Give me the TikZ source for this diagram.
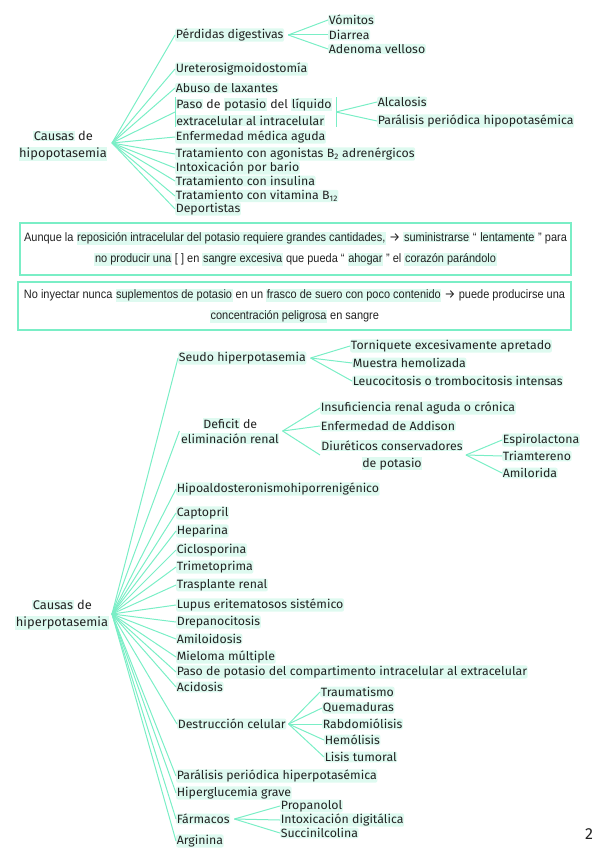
\documentclass[tikz,border=0pt]{standalone}
\usepackage{fontspec}
\setmainfont{Fira Sans}
\newfontfamily\itemfont[FakeStretch=1.03]{Fira Sans}
\newfontfamily\notefont[FakeStretch=0.9]{Liberation Sans}
\usepackage{xcolor}
\usetikzlibrary{positioning}

\definecolor{mint}{RGB}{122,238,198}
\definecolor{hlmint}{RGB}{222,250,240}
\definecolor{ink}{RGB}{34,34,34}

\newcommand{\mk}[1]{{\setlength{\fboxsep}{0.6pt}\colorbox{hlmint}{#1}}}
\newcommand{\toarrow}{{\itemfont →}}

\begin{document}
\begin{tikzpicture}[
  x=1pt, y=-1pt,
  item/.style={anchor=west, inner sep=0.6pt, fill=hlmint, rounded corners=2pt, text=ink, font=\itemfont\fontsize{12}{17}\selectfont},
  root/.style={align=center, inner sep=1pt, text=ink, font=\itemfont\fontsize{12.5}{17}\selectfont},
  link/.style={draw=mint, line width=1pt},
  note/.style={draw=mint, line width=1.2pt, align=center, inner sep=0pt, text=ink, font=\notefont\fontsize{12.2}{21}\selectfont}
]
\useasboundingbox (0,0) rectangle (599,848);

% hipopotasemia
\node[root] (hypo) at (63,146) {\mk{Causas} de\\\mk{hipopotasemia}};
\coordinate (hypohub) at (112,143);

\node[item] (perd) at (175,35) {Pérdidas digestivas};
\node[item] (vom) at (328,20) {Vómitos};
\node[item] (dia) at (328,35) {Diarrea};
\node[item] (aden) at (328,49) {Adenoma velloso};
\node[item] (ureter) at (175,69) {Ureterosigmoidostomía};
\node[item] (laxa) at (175,88) {Abuso de laxantes};
\node[item, align=left, fill=none] (pasoext) at (175,112) {\mk{Paso} de \mk{potasio} del \mk{líquido}\\\mk{extracelular al intracelular}};
\node[item] (alca) at (377,102) {Alcalosis};
\node[item] (parhypo) at (377,121) {Parálisis periódica hipopotasémica};
\node[item] (enf) at (175,137) {Enfermedad médica aguda};
\node[item] (agon) at (175,154) {Tratamiento con agonistas B\textsubscript{2} adrenérgicos};
\node[item] (bario) at (175,168) {Intoxicación por bario};
\node[item] (insul) at (175,181) {Tratamiento con insulina};
\node[item] (vitb) at (175,196) {Tratamiento con vitamina B\textsubscript{12}};
\node[item] (deport) at (175,209) {Deportistas};

\draw[link] (hypohub) -- (perd.west);
\draw[link] (hypohub) -- (ureter.west);
\draw[link] (hypohub) -- (laxa.west);
\draw[link] (hypohub) -- (pasoext.west);
\draw[link] (hypohub) -- (enf.west);
\draw[link] (hypohub) -- (agon.west);
\draw[link] (hypohub) -- (bario.west);
\draw[link] (hypohub) -- (insul.west);
\draw[link] (hypohub) -- (vitb.west);
\draw[link] (hypohub) -- (deport.west);

\draw[link] ([xshift=4pt]perd.east) -- (vom.west);
\draw[link] ([xshift=4pt]perd.east) -- (dia.west);
\draw[link] ([xshift=4pt]perd.east) -- (aden.west);

\draw[link] (pasoext.north west) -- (pasoext.south west);
\draw[link] ([xshift=3pt]pasoext.north east) -- ([xshift=3pt]pasoext.south east);
\draw[link] ([xshift=3pt]pasoext.east) -- (alca.west);
\draw[link] ([xshift=3pt]pasoext.east) -- (parhypo.west);

% notas
\node[note, minimum width=551pt, minimum height=52pt] (note1) at (295.5,249) {Aunque la \mk{reposición intracelular del potasio requiere grandes cantidades,} \toarrow{} \mk{suministrarse} “ \mk{lentamente} ” para\\\mk{no producir una} [ ] en \mk{sangre excesiva} que pueda “ \mk{ahogar} ” el \mk{corazón parándolo}};
\node[note, minimum width=553pt, minimum height=48pt] (note2) at (294.5,306) {No inyectar nunca \mk{suplementos de potasio} en un \mk{frasco de suero con poco contenido} \toarrow{} puede producirse una\\\mk{concentración peligrosa} en sangre};

% hiperpotasemia
\node[root] (hyper) at (62,615) {\mk{Causas} de\\\mk{hiperpotasemia}};
\coordinate (hyperhub) at (112,614);

\node[item] (seudo) at (178,358) {Seudo hiperpotasemia};
\node[item] (torn) at (350,346) {Torniquete excesivamente apretado};
\node[item] (muestra) at (352,363) {Muestra hemolizada};
\node[item] (leuco) at (352,381) {Leucocitosis o trombocitosis intensas};

\node[root, font=\itemfont\fontsize{12}{15}\selectfont] (deficit) at (230,431) {\mk{Deficit} de\\\mk{eliminación renal}};
\node[item] (insuf) at (320,408) {Insuficiencia renal aguda o crónica};
\node[item] (addison) at (320,426) {Enfermedad de Addison};
\node[item, align=center, fill=none] (diur) at (320,455) {\mk{Diuréticos conservadores}\\\mk{de potasio}};
\node[item] (espiro) at (502,440) {Espirolactona};
\node[item] (triam) at (502,456) {Triamtereno};
\node[item] (amilo) at (502,473) {Amilorida};

\node[item] (hipoald) at (176,489) {Hipoaldosteronismohiporrenigénico};
\node[item] (capto) at (176,513) {Captopril};
\node[item] (hepa) at (176,531) {Heparina};
\node[item] (ciclo) at (176,550) {Ciclosporina};
\node[item] (trime) at (176,567) {Trimetoprima};
\node[item] (traspl) at (176,585) {Trasplante renal};
\node[item] (lupus) at (176,605) {Lupus eritematosos sistémico};
\node[item] (drepa) at (176,622) {Drepanocitosis};
\node[item] (amiloid) at (176,639) {Amiloidosis};
\node[item] (mieloma) at (176,657) {Mieloma múltiple};
\node[item] (pasocomp) at (176,672) {Paso de potasio del compartimento intracelular al extracelular};
\node[item] (acid) at (176,687) {Acidosis};

\node[item] (destr) at (177,724) {Destrucción celular};
\node[item] (traum) at (320,692) {Traumatismo};
\node[item] (quem) at (322,708) {Quemaduras};
\node[item] (rabdo) at (322,724) {Rabdomiólisis};
\node[item] (hemol) at (324,740) {Hemólisis};
\node[item] (lisis) at (324,757) {Lisis tumoral};

\node[item] (parhyper) at (176,776) {Parálisis periódica hiperpotasémica};
\node[item] (hipergl) at (176,793) {Hiperglucemia grave};
\node[item] (farma) at (176,819) {Fármacos};
\node[item] (propa) at (280,806) {Propanolol};
\node[item] (digit) at (280,820) {Intoxicación digitálica};
\node[item] (succi) at (280,833) {Succinilcolina};
\node[item] (argin) at (176,841) {Arginina};

\draw[link] (hyperhub) -- (seudo.west);
\draw[link] (hyperhub) -- (deficit.west);
\draw[link] (hyperhub) -- (hipoald.west);
\draw[link] (hyperhub) -- (capto.west);
\draw[link] (hyperhub) -- (hepa.west);
\draw[link] (hyperhub) -- (ciclo.west);
\draw[link] (hyperhub) -- (trime.west);
\draw[link] (hyperhub) -- (traspl.west);
\draw[link] (hyperhub) -- (lupus.west);
\draw[link] (hyperhub) -- (drepa.west);
\draw[link] (hyperhub) -- (amiloid.west);
\draw[link] (hyperhub) -- (mieloma.west);
\draw[link] (hyperhub) -- (pasocomp.west);
\draw[link] (hyperhub) -- (acid.west);
\draw[link] (hyperhub) -- (destr.west);
\draw[link] (hyperhub) -- (parhyper.west);
\draw[link] (hyperhub) -- (hipergl.west);
\draw[link] (hyperhub) -- (farma.west);
\draw[link] (hyperhub) -- (argin.west);

\draw[link] ([xshift=4pt]seudo.east) -- (torn.west);
\draw[link] ([xshift=4pt]seudo.east) -- (muestra.west);
\draw[link] ([xshift=4pt]seudo.east) -- (leuco.west);

\draw[link] ([xshift=2pt]deficit.east) -- (insuf.west);
\draw[link] ([xshift=2pt]deficit.east) -- (addison.west);
\draw[link] ([xshift=2pt]deficit.east) -- (diur.west);

\draw[link] ([xshift=2pt]diur.east) -- (espiro.west);
\draw[link] ([xshift=2pt]diur.east) -- (triam.west);
\draw[link] ([xshift=2pt]diur.east) -- (amilo.west);

\draw[link] ([xshift=2pt]destr.east) -- (traum.west);
\draw[link] ([xshift=2pt]destr.east) -- (quem.west);
\draw[link] ([xshift=2pt]destr.east) -- (rabdo.west);
\draw[link] ([xshift=2pt]destr.east) -- (hemol.west);
\draw[link] ([xshift=2pt]destr.east) -- (lisis.west);

\draw[link] ([xshift=4pt]farma.east) -- (propa.west);
\draw[link] ([xshift=4pt]farma.east) -- (digit.west);
\draw[link] ([xshift=4pt]farma.east) -- (succi.west);

\node[text=ink, font=\fontsize{16}{16}\selectfont] (pagenum) at (589,834) {2};
\end{tikzpicture}
\end{document}
